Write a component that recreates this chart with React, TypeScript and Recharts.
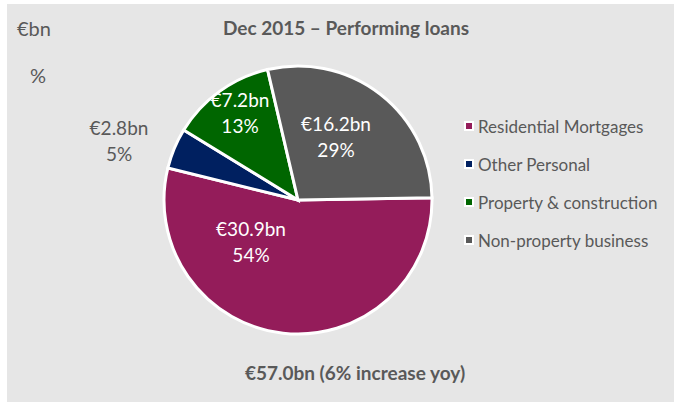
import { Legend, Pie, PieChart, Cell } from "recharts";

if (typeof document !== "undefined") document.body.style.margin = "0";

const categories = ["Residential Mortgages", "Other Personal", "Property & construction", "Non-property business"];
const amounts = [30.9, 2.8, 7.2, 16.2];
const amountLabels = ["€30.9bn", "€2.8bn", "€7.2bn", "€16.2bn"];
const percentLabels = ["54%", "5%", "13%", "29%"];

const COLORS = ["#941C5A", "#002060", "#006600", "#595959"];
const TEXT = "#595959";
const FONT = "Lato, 'Open Sans', sans-serif";

// label centre offsets from the pie centre (Excel "best fit")
const LABEL_OFFSET: [number, number][] = [
  [-47, 42],
  [-179, -59],
  [-58, -87],
  [38, -63],
];

const data = categories.map((name, i) => ({
  name,
  value: amounts[i],
  amount: amountLabels[i],
  pct: percentLabels[i],
}));

const renderLabel = (props: any) => {
  const { cx, cy, index } = props;
  const [dx, dy] = LABEL_OFFSET[index];
  const inside = index !== 1;
  const fill = inside ? "#ffffff" : TEXT;
  return (
    <text
      x={cx + dx}
      y={cy + dy}
      textAnchor="middle"
      fill={fill}
      fontSize={19}
      fontFamily={FONT}
    >
      <tspan x={cx + dx} dy={-6}>{data[index].amount}</tspan>
      <tspan x={cx + dx} dy={26}>{data[index].pct}</tspan>
    </text>
  );
};

const renderLegend = () => (
  <div style={{ fontFamily: FONT }}>
    {data.map((d, i) => (
      <div key={d.name} style={{ display: "flex", alignItems: "center", height: 38 }}>
        <span
          style={{
            display: "inline-block",
            width: 6,
            height: 6,
            background: COLORS[i],
            border: "2px solid #ffffff",
            marginRight: 4,
          }}
        />
        <span style={{ fontSize: 17, color: TEXT }}>{d.name}</span>
      </div>
    ))}
  </div>
);

export default function App() {
  return (
    <div style={{ position: "relative", width: 674, height: 402, background: "#ffffff", fontFamily: FONT }}>
      <div style={{ position: "absolute", left: 7, top: 4, width: 667, height: 398, background: "#E6E6E6" }} />
      <div style={{ position: "absolute", left: 0, top: 0 }}>
        <PieChart width={674} height={402} margin={{ top: 0, right: 0, bottom: 0, left: 0 }}>
          <Pie
            data={data}
            dataKey="value"
            nameKey="name"
            cx={298}
            cy={200}
            outerRadius={134}
            startAngle={1}
            endAngle={-359}
            stroke="#ffffff"
            strokeWidth={3}
            label={renderLabel}
            labelLine={false}
            isAnimationActive={false}
          >
            {data.map((d, i) => (
              <Cell key={d.name} fill={COLORS[i]} />
            ))}
          </Pie>
          <Legend
            layout="vertical"
            align="right"
            verticalAlign="top"
            content={renderLegend}
            wrapperStyle={{ left: 464, top: 107, width: 210 }}
          />
        </PieChart>
      </div>
      <div style={{ position: "absolute", left: 17, top: 16, fontSize: 20, color: TEXT }}>€bn</div>
      <div style={{ position: "absolute", left: 30, top: 63, fontSize: 20, color: TEXT }}>%</div>
      <div
        style={{
          position: "absolute",
          left: 0,
          width: 692,
          top: 16,
          textAlign: "center",
          fontSize: 19,
          fontWeight: 700,
          color: TEXT,
        }}
      >
        Dec 2015 – Performing loans
      </div>
      <div
        style={{
          position: "absolute",
          left: 0,
          width: 710,
          top: 361,
          textAlign: "center",
          fontSize: 19,
          fontWeight: 700,
          color: TEXT,
        }}
      >
        €57.0bn (6% increase yoy)
      </div>
    </div>
  );
}
